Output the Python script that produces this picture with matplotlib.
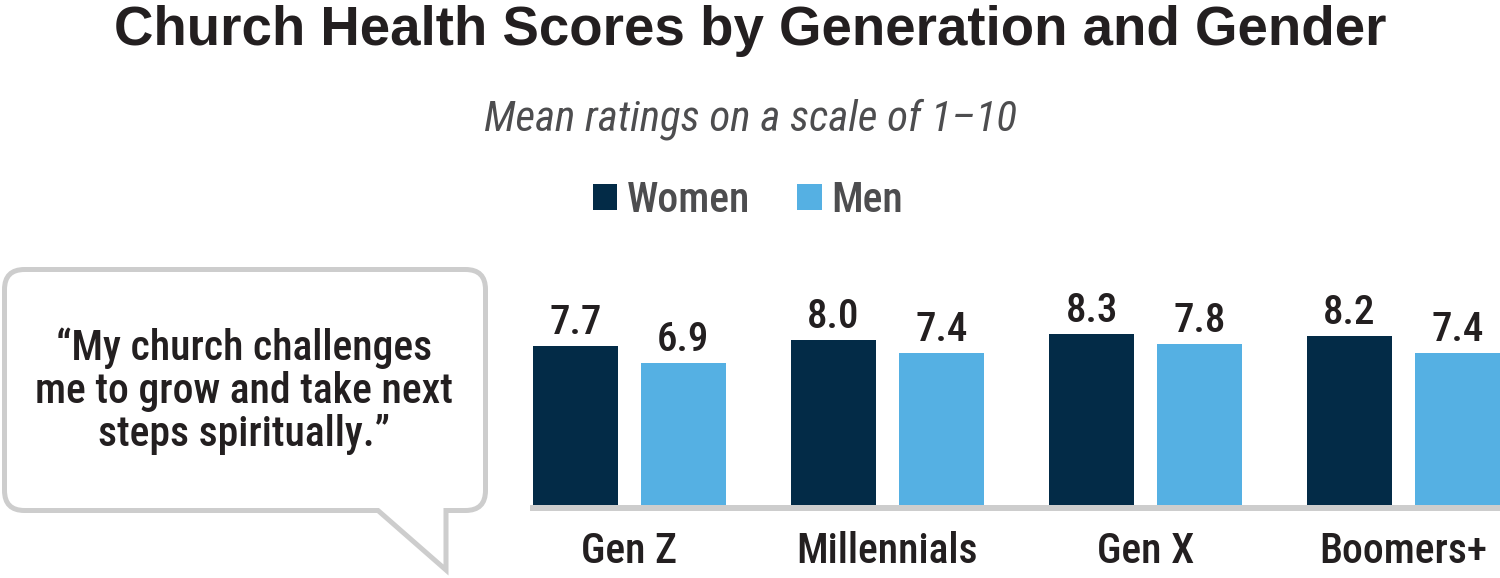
import matplotlib
matplotlib.use("Agg")
import matplotlib.pyplot as plt
import numpy as np
from matplotlib.path import Path
from matplotlib.patches import PathPatch

generations = ["Gen Z", "Millennials", "Gen X", "Boomers+"]
women = [7.7, 8.0, 8.3, 8.2]
men = [6.9, 7.4, 7.8, 7.4]
series_names = ["Women", "Men"]

title = "Church Health Scores by Generation and Gender"
subtitle = "Mean ratings on a scale of 1\u201310"
quote = "\u201cMy church challenges\nme to grow and take next\nsteps spiritually.\u201d"

NAVY = "#032B47"
LIGHT = "#55B0E3"
INK = "#231F20"
GREY_TXT = "#4D4D4F"
BUBBLE = "#CDCDCD"

narrow = ["Roboto Condensed", "Liberation Sans Narrow", "Liberation Sans", "DejaVu Sans"]
WT = "medium"

W, H = 1500, 578
fig = plt.figure(figsize=(W / 100, H / 100), dpi=100)


def fx(px):
    return px / W


def fy(py):
    return 1 - py / H


# titles
fig.text(0.5, fy(45), title, ha="center", va="baseline", fontsize=39.3,
         fontweight="bold", color=INK, family=["Liberation Sans", "DejaVu Sans"])
fig.text(0.5, fy(131), subtitle, ha="center", va="baseline", fontsize=31,
         style="italic", color=GREY_TXT, family=narrow)

# bars
ax = fig.add_axes([fx(533), fy(505), fx(967), 206 / H])
x = np.arange(len(generations))
bw = 0.33
off = 0.209
b1 = ax.bar(x - off, women, bw, color=NAVY, label=series_names[0], zorder=3)
b2 = ax.bar(x + off, men, bw, color=LIGHT, label=series_names[1], zorder=3)
ax.set_xlim(-0.374, 3.374)
ax.set_ylim(0, 10)

for xs, vals in [(x - off, women), (x + off, men)]:
    for xi, v in zip(xs, vals):
        ax.annotate(f"{v:.1f}", (xi, v), xytext=(0, 8.6), textcoords="offset points",
                    ha="center", va="baseline", fontsize=29.5, color=INK,
                    family=narrow, fontweight=WT)

ax.axhline(-0.15, color=BUBBLE, lw=4.3, zorder=1, clip_on=False)
for s in ax.spines.values():
    s.set_visible(False)
ax.set_yticks([])
ax.set_xticks(x, generations)
ax.tick_params(axis="x", length=0, pad=19, labelsize=30, labelcolor=INK)
for lab in ax.get_xticklabels():
    lab.set_family(narrow)
    lab.set_fontweight(WT)

# legend
fig.legend(handles=[b1, b2], labels=series_names, loc="center",
           bbox_to_anchor=(fx(748), fy(200)), ncol=2, frameon=False,
           prop={"family": narrow, "size": 30, "weight": WT}, labelcolor=GREY_TXT,
           handlelength=0.58, handleheight=0.58, handletextpad=0.24,
           columnspacing=1.13, borderpad=0)

# speech bubble
L, R, T, B, r = 4.5, 485.5, 269.5, 510.5, 20
pts = [(L + r, T), (R - r, T), (R, T), (R, T + r), (R, B - r), (R, B), (R - r, B),
       (446, B), (446, 570), (378, B), (L + r, B), (L, B), (L, B - r),
       (L, T + r), (L, T), (L + r, T), (L + r, T)]
codes = [Path.MOVETO, Path.LINETO, Path.CURVE3, Path.CURVE3, Path.LINETO,
         Path.CURVE3, Path.CURVE3, Path.LINETO, Path.LINETO, Path.LINETO,
         Path.LINETO, Path.CURVE3, Path.CURVE3, Path.LINETO, Path.CURVE3,
         Path.CURVE3, Path.CLOSEPOLY]
verts = [(fx(px), fy(py)) for px, py in pts]
fig.patches.append(PathPatch(Path(verts, codes), facecolor="white", edgecolor=BUBBLE,
                             lw=3.6, transform=fig.transFigure, joinstyle="miter"))
fig.text(fx(244), fy(391), quote, ha="center", va="center", fontsize=30,
         color=INK, family=narrow, fontweight=WT, linespacing=1.07)

fig.savefig("out.png", dpi=100)
